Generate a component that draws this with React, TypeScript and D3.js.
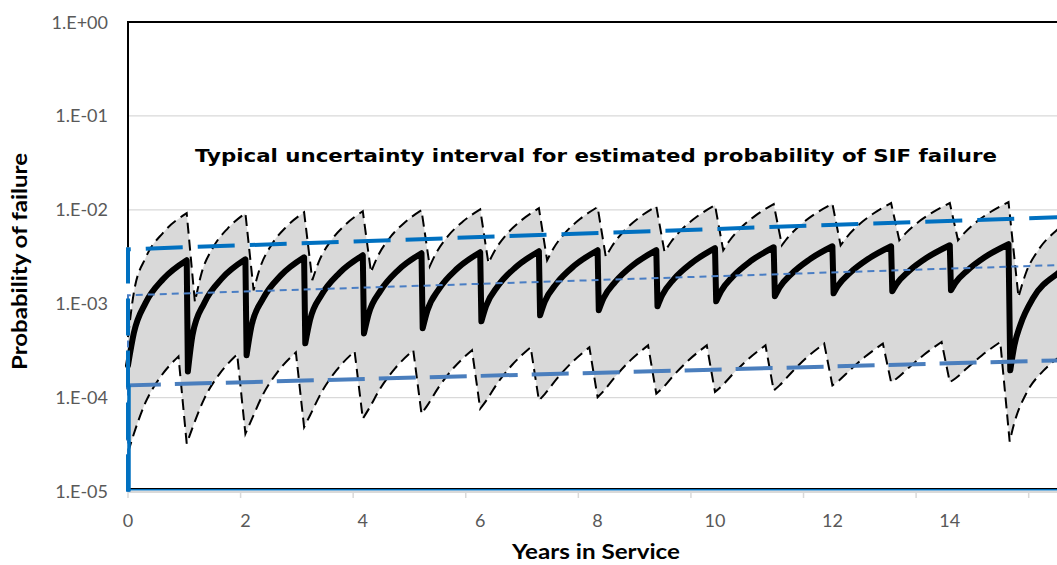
import React from "react";
import * as d3 from "d3";

type Pt = [number, number];

// Axis labels
const xTickLabels = [0, 2, 4, 6, 8, 10, 12, 14];
const yTickValues = [1, 1e-1, 1e-2, 1e-3, 1e-4, 1e-5];
const yTickLabels = ["1.E+00", "1.E-01", "1.E-02", "1.E-03", "1.E-04", "1.E-05"];

// Estimated probability of failure: one sub-array per proof-test interval [years, probability]
const meanCycles: Pt[][] = [
  [[0, 2.2e-4], [0.1, 4.88e-4], [0.3, 1.02e-3], [0.6, 1.83e-3], [1.0, 2.9e-3]],
  [[1.02, 1.9e-4], [1.1, 4.68e-4], [1.3, 1.02e-3], [1.6, 1.86e-3], [2.0, 2.97e-3]],
  [[2.02, 2.82e-4], [2.1, 5.66e-4], [2.3, 1.13e-3], [2.6, 1.99e-3], [3.0, 3.12e-3]],
  [[3.02, 3.78e-4], [3.1, 6.68e-4], [3.3, 1.25e-3], [3.6, 2.12e-3], [4.0, 3.28e-3]],
  [[4.02, 4.83e-4], [4.1, 7.8e-4], [4.3, 1.37e-3], [4.6, 2.27e-3], [5.0, 3.45e-3]],
  [[5.02, 5.47e-4], [5.1, 8.45e-4], [5.3, 1.44e-3], [5.6, 2.34e-3], [6.0, 3.53e-3]],
  [[6.02, 6.49e-4], [6.1, 9.46e-4], [6.3, 1.54e-3], [6.6, 2.43e-3], [7.0, 3.62e-3]],
  [[7.02, 7.52e-4], [7.1, 1.05e-3], [7.3, 1.64e-3], [7.6, 2.53e-3], [8.0, 3.71e-3]],
  [[8.02, 8.51e-4], [8.1, 1.14e-3], [8.3, 1.71e-3], [8.6, 2.57e-3], [9.0, 3.71e-3]],
  [[9.02, 9.38e-4], [9.1, 1.23e-3], [9.3, 1.83e-3], [9.6, 2.71e-3], [10.0, 3.9e-3]],
  [[10.02, 1.06e-3], [10.1, 1.35e-3], [10.3, 1.94e-3], [10.6, 2.82e-3], [11.0, 3.99e-3]],
  [[11.02, 1.2e-3], [11.1, 1.49e-3], [11.3, 2.07e-3], [11.6, 2.93e-3], [12.0, 4.09e-3]],
  [[12.02, 1.29e-3], [12.1, 1.57e-3], [12.3, 2.13e-3], [12.6, 2.97e-3], [13.0, 4.09e-3]],
  [[13.02, 1.36e-3], [13.1, 1.64e-3], [13.3, 2.21e-3], [13.6, 3.06e-3], [14.0, 4.19e-3]],
  [[14.02, 1.39e-3], [14.1, 1.68e-3], [14.3, 2.26e-3], [14.6, 3.14e-3], [15.0, 4.3e-3]],
  [[15.03, 1.95e-4], [15.1, 3.6e-4], [15.2, 5.9e-4], [15.42, 1.15e-3], [15.83, 2.08e-3], [16.0, 2.45e-3]],
];

// Upper bound of the uncertainty interval
const upperCycles: Pt[][] = [
  [[0, 4.4e-4], [0.1, 1.32e-3], [0.3, 3.08e-3], [0.6, 5.72e-3], [1.0, 9.2e-3]],
  [[1.14, 1.04e-3], [1.25, 2.08e-3], [1.45, 3.98e-3], [1.7, 6.35e-3], [2.0, 9.2e-3]],
  [[2.14, 1.39e-3], [2.25, 2.42e-3], [2.45, 4.28e-3], [2.7, 6.62e-3], [3.0, 9.42e-3]],
  [[3.14, 1.78e-3], [3.25, 2.79e-3], [3.45, 4.62e-3], [3.7, 6.91e-3], [4.0, 9.66e-3]],
  [[4.14, 2.16e-3], [4.25, 3.15e-3], [4.45, 4.95e-3], [4.7, 7.2e-3], [5.0, 9.9e-3]],
  [[5.14, 2.5e-3], [5.25, 3.47e-3], [5.45, 5.24e-3], [5.7, 7.45e-3], [6.0, 1.01e-2]],
  [[6.14, 2.7e-3], [6.25, 3.69e-3], [6.45, 5.48e-3], [6.7, 7.71e-3], [7.0, 1.04e-2]],
  [[7.14, 2.9e-3], [7.25, 3.9e-3], [7.45, 5.71e-3], [7.7, 7.98e-3], [8.0, 1.07e-2]],
  [[8.14, 3.15e-3], [8.25, 4.14e-3], [8.45, 5.94e-3], [8.7, 8.2e-3], [9.0, 1.09e-2]],
  [[9.14, 3.56e-3], [9.25, 4.54e-3], [9.45, 6.31e-3], [9.7, 8.53e-3], [10.0, 1.12e-2]],
  [[10.14, 3.71e-3], [10.25, 4.71e-3], [10.45, 6.52e-3], [10.7, 8.78e-3], [11.0, 1.15e-2]],
  [[11.14, 4.19e-3], [11.25, 5.14e-3], [11.45, 6.86e-3], [11.7, 9.01e-3], [12.0, 1.16e-2]],
  [[12.14, 4.19e-3], [12.25, 5.16e-3], [12.45, 6.93e-3], [12.7, 9.14e-3], [13.0, 1.18e-2]],
  [[13.14, 4.74e-3], [13.25, 5.64e-3], [13.45, 7.29e-3], [13.7, 9.34e-3], [14.0, 1.18e-2]],
  [[14.14, 4.74e-3], [14.25, 5.68e-3], [14.45, 7.39e-3], [14.7, 9.53e-3], [15.0, 1.21e-2]],
  [[15.17, 1.18e-3], [15.3, 2.15e-3], [15.5, 3.66e-3], [15.83, 6.13e-3], [16.0, 7.4e-3]],
];

// Lower bound of the uncertainty interval
const lowerCycles: Pt[][] = [
  [[0, 2.6e-5], [0.1, 4.12e-5], [0.3, 8.93e-5], [0.55, 1.65e-4], [0.86, 2.75e-4]],
  [[1.0, 3.23e-5], [1.1, 4.8e-5], [1.3, 9.76e-5], [1.55, 1.76e-4], [1.86, 2.89e-4]],
  [[2.0, 4.12e-5], [2.1, 5.72e-5], [2.3, 1.08e-4], [2.55, 1.88e-4], [2.86, 3.03e-4]],
  [[3.0, 4.85e-5], [3.1, 6.45e-5], [3.3, 1.15e-4], [3.55, 1.95e-4], [3.86, 3.11e-4]],
  [[4.0, 5.96e-5], [4.1, 7.54e-5], [4.3, 1.26e-4], [4.55, 2.05e-4], [4.86, 3.19e-4]],
  [[5.0, 6.73e-5], [5.1, 8.27e-5], [5.3, 1.31e-4], [5.55, 2.08e-4], [5.86, 3.19e-4]],
  [[6.0, 7.61e-5], [6.1, 9.24e-5], [6.3, 1.44e-4], [6.55, 2.25e-4], [6.86, 3.43e-4]],
  [[7.0, 9.33e-5], [7.1, 1.09e-4], [7.3, 1.57e-4], [7.55, 2.33e-4], [7.86, 3.43e-4]],
  [[8.0, 1.01e-4], [8.1, 1.17e-4], [8.3, 1.67e-4], [8.55, 2.46e-4], [8.86, 3.6e-4]],
  [[9.0, 1.1e-4], [9.1, 1.25e-4], [9.3, 1.74e-4], [9.55, 2.5e-4], [9.86, 3.6e-4]],
  [[10.0, 1.15e-4], [10.1, 1.3e-4], [10.3, 1.77e-4], [10.55, 2.52e-4], [10.86, 3.6e-4]],
  [[11.0, 1.19e-4], [11.1, 1.35e-4], [11.3, 1.84e-4], [11.55, 2.63e-4], [11.86, 3.76e-4]],
  [[12.0, 1.35e-4], [12.1, 1.5e-4], [12.3, 1.96e-4], [12.55, 2.7e-4], [12.86, 3.76e-4]],
  [[13.0, 1.46e-4], [13.1, 1.61e-4], [13.3, 2.08e-4], [13.55, 2.83e-4], [13.86, 3.91e-4]],
  [[14.0, 1.46e-4], [14.1, 1.61e-4], [14.3, 2.08e-4], [14.55, 2.83e-4], [14.86, 3.91e-4]],
  [[15.02, 3.4e-5], [15.1, 5.4e-5], [15.3, 1.1e-4], [15.6, 1.95e-4], [15.83, 2.6e-4], [16.0, 3.07e-4]],
];

// Exponential trend lines (value 0 at the origin sits on the axis floor)
const trendUpper: Pt[] = [[0, 0], [0, 3.8e-3], [18, 9.3e-3]];
const trendMean: Pt[] = [[0, 0], [0, 1.23e-3], [18, 2.85e-3]];
const trendLower: Pt[] = [[0, 0], [0, 1.35e-4], [18, 2.71e-4]];

const W = 1057;
const H = 565;
const LEFT = 128;
const TOP = 22;
const BOTTOM = 491.5;
const PX_PER_YEAR = 58.7;
const X_MAX = 18;
const AXIS_TICK_STEP = 1.918;

export default function App() {
  const x = d3.scaleLinear().domain([0, X_MAX]).range([LEFT, LEFT + X_MAX * PX_PER_YEAR]);
  const y = d3.scaleLog().domain([1e-5, 1]).range([BOTTOM, TOP]);
  const yp = (p: number) => (p > 0 ? y(p) : BOTTOM);

  const curved = d3
    .line<Pt>()
    .x((d) => x(d[0]))
    .y((d) => yp(d[1]))
    .curve(d3.curveMonotoneX);
  const straight = d3
    .line<Pt>()
    .x((d) => x(d[0]))
    .y((d) => yp(d[1]));

  // Each interval is smoothed on its own; the drop at each test is a straight segment
  const joinCycles = (cycles: Pt[][]) =>
    cycles
      .map((c, i) => {
        const s = curved(c) || "";
        return i === 0 ? s : "L" + s.slice(1);
      })
      .join("");

  const meanPath = joinCycles(meanCycles);
  const upperPath = joinCycles(upperCycles);
  const lowerPath = joinCycles(lowerCycles);

  const uFirst = upperCycles[0][0][0];
  const uLast = upperCycles[upperCycles.length - 1].slice(-1)[0][0];
  const lFirst = lowerCycles[0][0][0];
  const lLast = lowerCycles[lowerCycles.length - 1].slice(-1)[0][0];

  const bandUnderUpper = `${upperPath}L${x(uLast)},${BOTTOM}L${x(uFirst)},${BOTTOM}Z`;
  const bandAboveLower = `${lowerPath}L${x(lLast)},${TOP}L${x(lFirst)},${TOP}Z`;

  const axisTicks = d3.range(0, X_MAX, AXIS_TICK_STEP);

  const labelFont = "Lato, 'Liberation Sans', sans-serif";

  return (
    <svg
      width={W}
      height={H}
      style={{ position: "absolute", left: 0, top: 0, background: "#fff" }}
    >
      <defs>
        <clipPath id="plotClip">
          <rect x={LEFT - 3} y={TOP - 2} width={W} height={BOTTOM - TOP + 4} />
        </clipPath>
        <clipPath id="aboveLower">
          <path d={bandAboveLower} />
        </clipPath>
      </defs>

      {/* horizontal gridlines */}
      {yTickValues.slice(1, -1).map((v) => (
        <line
          key={v}
          x1={LEFT}
          x2={W}
          y1={y(v)}
          y2={y(v)}
          stroke="#d9d9d9"
          strokeWidth={1.3}
        />
      ))}

      {/* bottom axis line and tick marks */}
      <line x1={LEFT} x2={W} y1={BOTTOM + 0.5} y2={BOTTOM + 0.5} stroke="#d9d9d9" strokeWidth={2} />
      {axisTicks.map((t) => (
        <line
          key={t}
          x1={x(t)}
          x2={x(t)}
          y1={BOTTOM}
          y2={BOTTOM + 6.5}
          stroke="#d9d9d9"
          strokeWidth={1.5}
        />
      ))}

      <g clipPath="url(#plotClip)">
        {/* uncertainty band */}
        <g clipPath="url(#aboveLower)">
          <path d={bandUnderUpper} fill="#d9d9d9" stroke="none" />
        </g>

        {/* band limits */}
        <path d={upperPath} fill="none" stroke="#000" strokeWidth={2} strokeDasharray="11 6" />
        <path d={lowerPath} fill="none" stroke="#000" strokeWidth={2} strokeDasharray="11 6" />

        {/* estimated probability */}
        <path
          d={meanPath}
          fill="none"
          stroke="#000"
          strokeWidth={6}
          strokeLinejoin="round"
          strokeLinecap="round"
        />

        {/* trend lines */}
        <path
          d={straight(trendMean) || ""}
          fill="none"
          stroke="#4a7ec4"
          strokeWidth={2}
          strokeDasharray="7 5"
        />
        <path
          d={straight(trendLower) || ""}
          fill="none"
          stroke="#4a7ebd"
          strokeWidth={4}
          strokeDasharray="37 14"
        />
        <path
          d={straight(trendUpper) || ""}
          fill="none"
          stroke="#0070c0"
          strokeWidth={4}
          strokeDasharray="37 15"
        />
      </g>

      {/* plot frame */}
      <line x1={LEFT - 1} x2={W} y1={TOP} y2={TOP} stroke="#000" strokeWidth={2} />
      <line x1={LEFT} x2={LEFT} y1={TOP} y2={y(3.8e-3) - 2} stroke="#000" strokeWidth={2} />
      <line x1={LEFT} x2={W} y1={BOTTOM - 3} y2={BOTTOM - 3} stroke="#000" strokeWidth={1.2} />
      <line x1={LEFT} x2={W} y1={BOTTOM - 1.8} y2={BOTTOM - 1.8} stroke="#0070c0" strokeWidth={1.6} />
      <line x1={LEFT + 1} x2={LEFT + 1} y1={y(1.35e-4)} y2={BOTTOM} stroke="#0070c0" strokeWidth={3.5} />

      {/* y tick labels */}
      {yTickValues.map((v, i) => (
        <text
          key={v}
          x={108}
          y={y(v) + 6.5}
          textAnchor="end"
          fontFamily={labelFont}
          fontSize={18}
          fill="#595959"
        >
          {yTickLabels[i]}
        </text>
      ))}

      {/* x tick labels */}
      {xTickLabels.map((t) => (
        <text
          key={t}
          x={x(t)}
          y={527}
          textAnchor="middle"
          fontFamily={labelFont}
          fontSize={18}
          fill="#595959"
        >
          {t}
        </text>
      ))}

      {/* titles */}
      <text
        x={596}
        y={162}
        textAnchor="middle"
        fontFamily="'DejaVu Sans', Verdana, sans-serif"
        fontWeight="bold"
        fontSize={17}
        textLength={802}
        lengthAdjust="spacingAndGlyphs"
        fill="#000"
      >
        Typical uncertainty interval for estimated probability of SIF failure
      </text>
      <text
        x={596}
        y={559}
        textAnchor="middle"
        fontFamily={labelFont}
        fontWeight="bold"
        fontSize={21}
        textLength={168}
        lengthAdjust="spacingAndGlyphs"
        fill="#000"
      >
        Years in Service
      </text>
      <text
        transform={`translate(27,261.5) rotate(-90)`}
        textAnchor="middle"
        fontFamily={labelFont}
        fontWeight="bold"
        fontSize={20}
        textLength={217}
        lengthAdjust="spacingAndGlyphs"
        fill="#000"
      >
        Probability of failure
      </text>
    </svg>
  );
}
